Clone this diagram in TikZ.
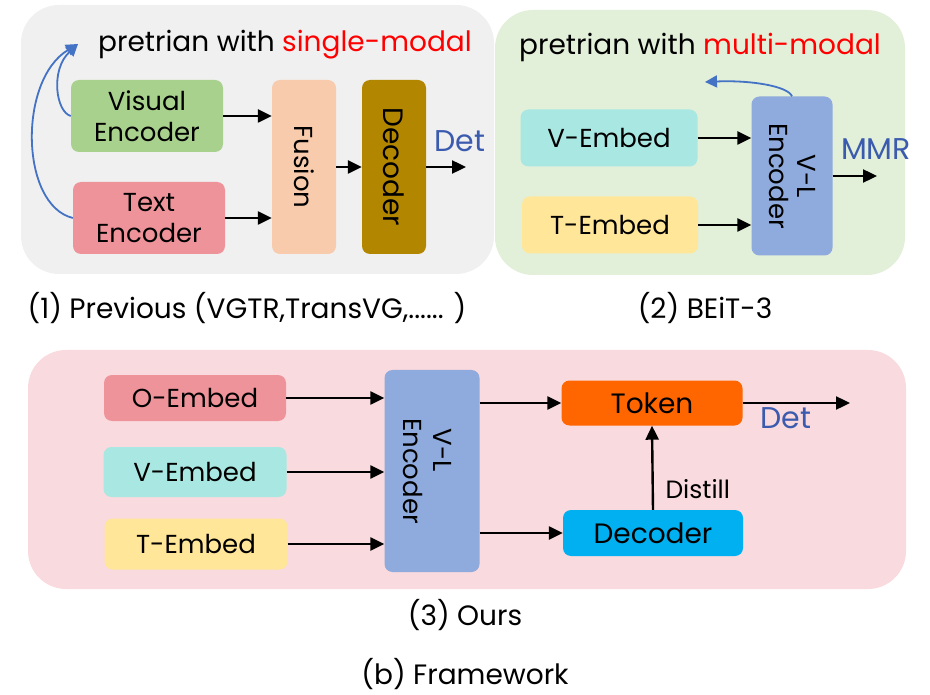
\documentclass[tikz,border=0pt]{standalone}
\usepackage{fontspec}
\setmainfont{Poppins}
\usetikzlibrary{arrows.meta}
\definecolor{panelgray}{HTML}{F0F0F0}
\definecolor{panelgreen}{HTML}{E2EFD9}
\definecolor{panelpink}{HTML}{F9DADE}
\definecolor{visgreen}{HTML}{A9D18E}
\definecolor{rosebox}{HTML}{EF939B}
\definecolor{peach}{HTML}{F8CBAD}
\definecolor{darkgold}{HTML}{B38600}
\definecolor{aqua}{HTML}{A9E8E2}
\definecolor{lightyellow}{HTML}{FFE699}
\definecolor{vlblue}{HTML}{8FAADC}
\definecolor{orangebox}{HTML}{FF6600}
\definecolor{skyblue}{HTML}{00B0F0}
\definecolor{curveblue}{HTML}{4472C4}
\definecolor{labelblue}{HTML}{3A5BAE}
\definecolor{hotred}{HTML}{FF0000}
\tikzset{
  panel/.style={rounded corners=38pt, draw=none},
  blk/.style={rounded corners=8pt, draw=none, align=center, inner sep=0pt,
    font=\fontsize{26}{32}\selectfont},
  vtxt/.style={rotate=-90, font=\fontsize{26}{28}\selectfont},
  arr/.style={-{Triangle[length=14pt,width=13pt]}, line width=2.4pt, black},
  bluearr/.style={-{Triangle[length=12pt,width=12pt]}, line width=1.8pt, curveblue},
  caption/.style={font=\fontsize{28}{32}\selectfont, inner sep=1pt},
  outlbl/.style={font=\fontsize{30}{34}\selectfont, text=labelblue},
  ttl/.style={font=\fontsize{28}{32}\selectfont},
}
\begin{document}
\begin{tikzpicture}[x=1pt, y=-1pt]
\useasboundingbox (0,0) rectangle (930,695);

% ---------- panel backgrounds ----------
\fill[panelgray, panel] (21,5) rectangle (494,274);
\fill[panelgreen, panel] (495,10) rectangle (905,275);
\fill[panelpink, panel] (28,350) rectangle (906,589);

% ---------- (1) single-modal pretraining ----------
\node[ttl] (t1) at (285,45)
  {pretrian with \textcolor{hotred}{single-modal}};
\node[blk, fill=visgreen, minimum width=152pt, minimum height=72pt] (vis) at (147,116) {Visual\\[-1pt]Encoder};
\node[blk, fill=rosebox, minimum width=152pt, minimum height=72pt] (txt) at (149,218) {Text\\[-1pt]Encoder};
\node[blk, fill=peach, minimum width=64pt, minimum height=174pt] (fus) at (304,167) {};
\node[vtxt] (fusl) at (fus.center) {Fusion};
\node[blk, fill=darkgold, minimum width=64pt, minimum height=174pt] (dec1) at (394,167) {};
\node[vtxt, font=\fontsize{28}{30}\selectfont] (dec1l) at (dec1.center) {Decoder};
\coordinate (out1) at (466,167);
\coordinate (tip1) at (78,44);
\draw[arr] (vis.east) -- (vis.east -| fus.west);
\draw[arr] (txt.east) -- (txt.east -| fus.west);
\draw[arr] (fus.east) -- (dec1.west);
\draw[arr] (dec1.east) -- (out1);
\node[outlbl] (det1) at (460,141) {Det};
\draw[bluearr] (vis.west) .. controls (56,112) and (50,70) .. (tip1);
\draw[bluearr] (txt.west) .. controls (20,205) and (18,80) .. (tip1);

% ---------- (2) BEiT-3 ----------
\node[ttl] (t2) at (700,47)
  {pretrian with \textcolor{hotred}{multi-modal}};
\node[blk, fill=aqua, minimum width=177pt, minimum height=57pt] (vemb2) at (609,138) {V-Embed};
\node[blk, fill=lightyellow, minimum width=176pt, minimum height=57pt] (temb2) at (610,225) {T-Embed};
\node[blk, fill=vlblue, minimum width=81pt, minimum height=159pt] (enc2) at (792,176) {};
\node[vtxt, align=center] (enc2l) at (enc2.center) {V-L\\Encoder};
\draw[arr] (vemb2.east) -- (vemb2.east -| enc2.west);
\draw[arr] (temb2.east) -- (temb2.east -| enc2.west);
\coordinate (out2) at (877,176);
\draw[arr] (enc2.east) -- (out2);
\node[outlbl] (mmr) at (876,149) {MMR};
\coordinate (tip2) at (705,82);
\draw[bluearr] (enc2.north) .. controls (788,86) and (750,80) .. (tip2);

% ---------- captions ----------
\node[caption] (c1) at (247,308) {(1) Previous (VGTR,TransVG,...... )};
\node[caption] (c2) at (705,308) {(2) BEiT-3};

% ---------- (3) Ours ----------
\node[blk, fill=rosebox, minimum width=182pt, minimum height=46pt] (oemb) at (195,398) {O-Embed};
\node[blk, fill=aqua, minimum width=183pt, minimum height=50pt] (vemb3) at (195,472) {V-Embed};
\node[blk, fill=lightyellow, minimum width=183pt, minimum height=51pt] (temb3) at (196,544) {T-Embed};
\node[blk, fill=vlblue, minimum width=95pt, minimum height=202pt] (enc3) at (432,471) {};
\node[vtxt] (enc3a) at (443,450) {V-L};
\node[vtxt] (enc3b) at (413,471) {Encoder};
\node[blk, fill=orangebox, font=\fontsize{28}{32}\selectfont, minimum width=181pt, minimum height=45pt] (tok) at (652,403) {Token};
\node[blk, fill=skyblue, font=\fontsize{28}{32}\selectfont, minimum width=180pt, minimum height=46pt] (dec3) at (653,533) {Decoder};
\draw[arr] (oemb.east) -- (oemb.east -| enc3.west);
\draw[arr] (vemb3.east) -- (vemb3.east -| enc3.west);
\draw[arr] (temb3.east) -- (temb3.east -| enc3.west);
\draw[arr] (enc3.east |- tok.west) -- (tok.west);
\draw[arr] (enc3.east |- dec3.west) -- (dec3.west);
\draw[arr] (dec3.north) -- (tok.south);
\coordinate (out3) at (850,403);
\draw[arr] (tok.east) -- (out3);
\node[outlbl] (det3) at (786,418) {Det};
\node[font=\fontsize{25}{28}\selectfont, anchor=west] (dist) at (662,489) {Distill};

\node[caption] (c3) at (465,615) {(3) Ours};
\node[caption] (c4) at (465,674) {(b) Framework};
\end{tikzpicture}
\end{document}
